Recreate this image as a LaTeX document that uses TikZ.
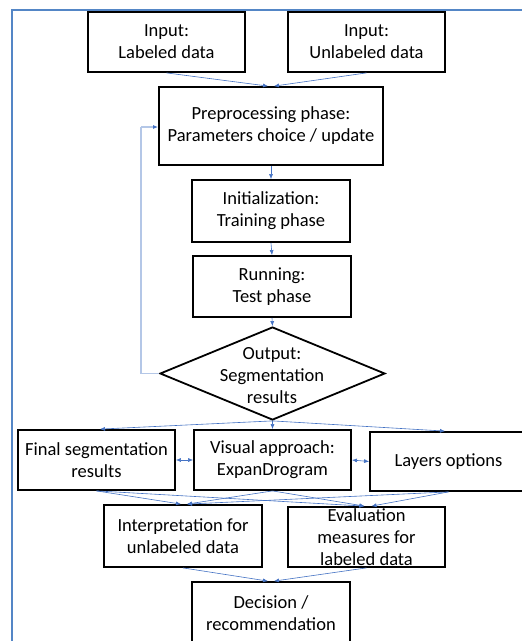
\documentclass[tikz,border=0pt]{standalone}
\usepackage{fontspec}
\setmainfont{Carlito}
\usetikzlibrary{shapes.geometric,arrows.meta}
\definecolor{framec}{RGB}{84,134,198}
\definecolor{linkc}{RGB}{68,114,196}
\definecolor{loopc}{RGB}{180,199,231}
\tikzset{
  box/.style={draw=black, line width=1.8pt, fill=white, align=center, inner sep=0pt,
    font=\fontsize{18.5}{22}\selectfont},
  link/.style={draw=linkc, line width=0.6pt, -{Latex[length=5pt,width=4pt]}},
  dlink/.style={draw=linkc, line width=0.6pt, {Latex[length=5pt,width=4pt]}-{Latex[length=5pt,width=4pt]}},
  loop/.style={draw=loopc, line width=1.4pt},
  txt/.style={align=center, inner sep=0pt, font=\fontsize{18.5}{22}\selectfont}
}
\begin{document}
\begin{tikzpicture}[x=1pt,y=-1pt]
\clip (0,0) rectangle (522,641);
\fill[white] (0,0) rectangle (522,641);
\draw[framec, line width=2pt] (12,660) -- (12,10) -- (540,10);

% nodes
\node[box, minimum width=157, minimum height=60] (inL) at (166.5,42) {Input:\\Labeled data};
\node[box, minimum width=157, minimum height=60] (inU) at (366.5,42) {Input:\\Unlabeled data};
\node[box, minimum width=224, minimum height=78] (pre) at (271,126) {Preprocessing phase:\\Parameters choice / update};
\node[box, minimum width=158, minimum height=62] (init) at (271,211) {Initialization:\\Training phase};
\node[box, minimum width=158, minimum height=61] (run) at (272,286.5) {Running:\\Test phase};
\node[draw=black, line width=1.8pt, fill=white, diamond, minimum width=225, minimum height=93, inner sep=0pt] (out) at (272.5,373.5) {};
\node[txt] (outt) at (272,375.5) {Output:\\Segmentation\\results};
\node[box, minimum width=157, minimum height=60] (fin) at (96.5,460) {Final segmentation\\results};
\node[box, minimum width=157, minimum height=60] (vis) at (272.5,460) {Visual approach:\\ExpanDrogram};
\node[box, minimum width=157, minimum height=59] (lay) at (448.5,461.5) {Layers options};
\node[box, minimum width=158, minimum height=62] (int) at (183,536) {Interpretation for\\unlabeled data};
\node[box, minimum width=157, minimum height=60] (eva) at (366.5,537) {Evaluation\\measures for\\labeled data};
\node[box, minimum width=158, minimum height=62] (dec) at (271,613) {Decision /\\recommendation};

% connectors
\draw[link] (inL.south) -- ([xshift=-3pt]pre.north);
\draw[link] (inU.south) -- ([xshift=3pt]pre.north);
\draw[link] (pre.south) -- (init.north);
\draw[link] (init.south) -- (run.north);
\draw[link] (run.south) -- (out.north);
\coordinate (lp) at (141,127);
\draw[loop] (out.west) -| (lp);
\draw[loop, -{Latex[length=5pt,width=4pt,color=linkc]}] (lp) -- (pre.west |- lp);
\draw[link] (out.south) -- ([xshift=3.5pt]fin.north);
\draw[link] (out.south) -- (vis.north);
\draw[link] (out.south) -- ([xshift=-3.5pt]lay.north);
\draw[dlink] (fin.east) -- (vis.west);
\draw[dlink] (vis.east) -- (lay.west);
\draw[link] (fin.south) -- ([xshift=-2pt]int.north);
\draw[link] (vis.south) -- ([xshift=4pt]int.north);
\draw[link] (lay.south) -- ([xshift=4pt]int.north);
\draw[link] (fin.south) -- ([xshift=-2pt]eva.north);
\draw[link] (vis.south) -- ([xshift=-2pt]eva.north);
\draw[link] (lay.south) -- ([xshift=5pt]eva.north);
\draw[link] (int.south) -- ([xshift=-3pt]dec.north);
\draw[link] (eva.south) -- ([xshift=3pt]dec.north);
\end{tikzpicture}
\end{document}
